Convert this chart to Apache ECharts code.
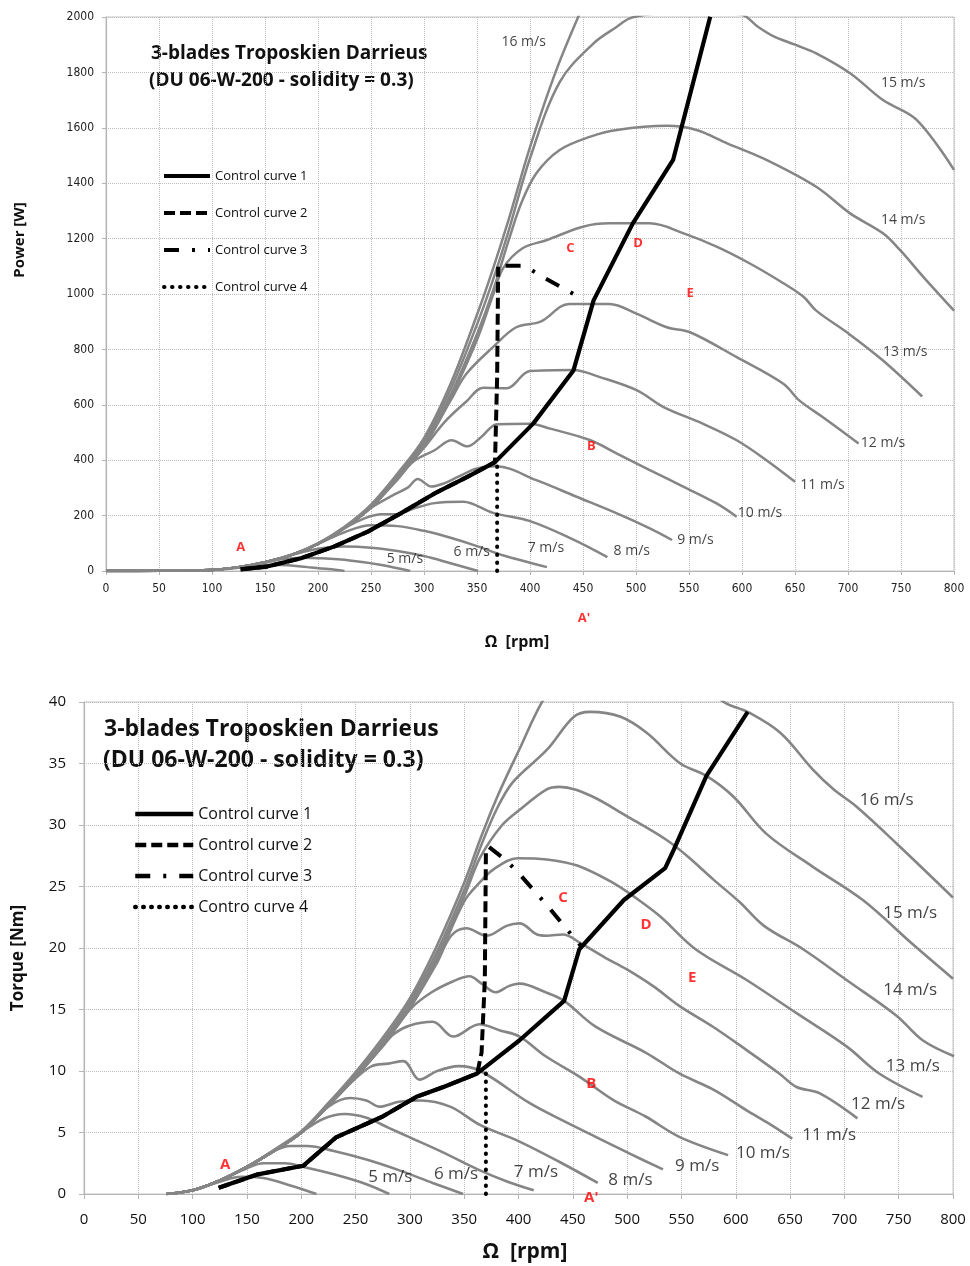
<!DOCTYPE html>
<html><head><meta charset="utf-8">
<script src="https://cdn.jsdelivr.net/npm/echarts/dist/echarts.min.js"></script>
<style>html,body{margin:0;padding:0;background:#fff}#c{width:970px;height:1266px}</style>
</head><body><div id="c"></div>
<script>
// ---------- DATA : power [W] vs rotor speed [rpm] ----------
const windNames = ['4 m/s','5 m/s','6 m/s','7 m/s','8 m/s','9 m/s','10 m/s','11 m/s','12 m/s','13 m/s','14 m/s','15 m/s','16 m/s'];
const p4  = [[0,0],[50,0.5],[100,4],[125,12],[145,21],[165,22],[190,14],[210,7],[225,0]];
const p5  = [[0,0],[50,0.5],[100,4],[125,14],[150,30],[165,42],[185,48],[202,46],[230,38],[260,22],[287,0]];
const p6  = [[0,0],[50,0.5],[100,4],[125,14],[150,32],[175,58],[200,80],[225,88],[250,84],[275,72],[300,54],[325,28],[351,0]];
const p7  = [[0,0],[50,0.5],[100,4],[125,14],[150,32],[175,58],[200,98],[225,140],[250,165],[275,162],[300,145],[325,120],[350,90],[375,56],[400,30],[416,14]];
const p8  = [[0,0],[50,0.5],[100,4],[125,14],[150,32],[175,58],[200,98],[225,155],[245,192],[260,205],[275,205],[290,225],[310,245],[337,250],[365,210],[400,180],[440,115],[473,50]];
const p9  = [[0,0],[50,0.5],[100,4],[125,14],[150,32],[175,58],[200,98],[225,155],[250,228],[270,272],[285,302],[294,332],[307,305],[320,318],[332,340],[350,370],[368,378],[406,328],[444,268],[482,208],[513,154],[534,112]];
const p10 = [[0,0],[50,0.5],[100,4],[125,14],[150,32],[175,58],[200,98],[225,155],[250,230],[275,330],[290,395],[310,436],[326,472],[341,450],[354,484],[369,530],[400,532],[419,514],[457,472],[482,424],[513,364],[545,304],[576,244],[595,196]];
const p11 = [[0,0],[50,0.5],[100,4],[125,14],[150,32],[175,58],[200,98],[225,155],[250,230],[275,335],[300,445],[320,540],[340,612],[356,662],[378,660],[400,722],[441,726],[466,700],[501,652],[526,592],[563,532],[595,472],[623,400],[650,322]];
const p12 = [[0,0],[50,0.5],[100,4],[125,14],[150,32],[175,58],[200,98],[225,155],[250,230],[275,335],[300,450],[325,615],[340,712],[365,808],[387,880],[410,900],[437,964],[475,964],[501,928],[529,880],[551,862],[595,772],[639,676],[654,616],[676,556],[710,460]];
const p13 = [[0,0],[50,0.5],[100,4],[125,14],[150,32],[175,58],[200,98],[225,155],[250,230],[275,335],[300,455],[325,625],[350,835],[365,995],[375,1095],[393,1165],[416,1195],[450,1243],[475,1255],[513,1255],[545,1219],[576,1171],[607,1111],[639,1039],[658,990],[670,940],[701,856],[733,760],[770,630]];
const p14 = [[0,0],[50,0.5],[100,4],[125,14],[150,32],[175,58],[200,98],[225,155],[250,232],[275,338],[300,460],[325,635],[350,855],[365,1010],[380,1195],[392,1330],[406,1436],[428,1520],[457,1568],[482,1592],[529,1607],[557,1592],[586,1544],[623,1484],[670,1387],[702,1291],[733,1219],[749,1159],[771,1062],[800,940]];
const p15 = [[0,0],[50,0.5],[100,4],[125,14],[150,32],[175,58],[200,99],[225,157],[250,235],[275,345],[300,470],[325,655],[350,890],[365,1050],[380,1230],[400,1490],[428,1765],[460,1905],[482,1965],[494,1995],[513,2010],[545,2015],[575,2015],[600,2008],[615,1965],[630,1930],[650,1900],[670,1869],[702,1797],[733,1700],[765,1628],[800,1448]];
const p16 = [[0,0],[50,0.5],[100,4],[125,14],[150,32],[175,58],[200,100],[225,160],[250,240],[275,352],[300,480],[325,675],[350,925],[365,1090],[380,1270],[400,1530],[425,1810],[450,2040],[475,2250],[500,2350],[550,2480],[611,2510],[641,2517],[671,2424],[711,2345],[748,2232],[800,2018]];
const powerCurves = [p4,p5,p6,p7,p8,p9,p10,p11,p12,p13,p14,p15,p16];

const ctrl1P = [[127,6],[152,16],[184,46],[215,88],[247,142],[278,208],[310,280],[341,340],[367,393],[403,532],[441,724],[460,977],[497,1255],[535,1484],[570,2001]];
const ctrl2P = [[127,6],[152,16],[184,46],[215,88],[247,142],[278,208],[310,280],[341,340],[367,393],[369,700],[370,1098]];
const ctrl3P = [[377,1102],[395,1102],[410,1066],[441,1000]];
const ctrl4P = [[369,0],[369,393]];

const powerSpeedLabels = ['5 m/s','6 m/s','7 m/s','8 m/s','9 m/s','10 m/s','11 m/s','12 m/s','13 m/s','14 m/s','15 m/s','16 m/s'];
const powerSpeedLabelAt = [[282,43],[345,69],[415,83],[496,72],[556,112],[617,209],[676,310],[733,462],[754,791],[752,1267],[752,1762],[394,1910]];
const letters = ['A','B','C','D','E',"A'"];
const powerLetterAt = [[127,87],[458,451],[438,1166],[502,1184],[551,1004],[451,-170]];

// ---------- DATA : torque [Nm] vs rotor speed [rpm] ----------
const t4  = [[76,0],[100,0.3],[125,1.0],[145,1.4],[165,1.3],[190,0.7],[214,0]];
const t5  = [[76,0],[100,0.3],[125,1.1],[150,2.1],[165,2.5],[185,2.5],[202,2.2],[230,1.6],[260,0.8],[281,0]];
const t6  = [[76,0],[100,0.3],[125,1.1],[150,2.2],[175,3.5],[190,3.9],[205,3.9],[230,3.5],[260,2.8],[291,1.9],[321,0.9],[349,0]];
const t7  = [[76,0],[100,0.3],[125,1.1],[150,2.2],[175,3.5],[200,5.0],[220,6.1],[240,6.5],[260,6.2],[280,5.4],[300,4.6],[330,3.4],[365,1.9],[390,1.0],[414,0.3]];
const t8  = [[76,0],[100,0.3],[125,1.1],[150,2.2],[175,3.5],[200,5.0],[225,7.1],[245,7.8],[260,7.6],[272,7.1],[290,7.5],[310,7.6],[337,7.1],[365,5.6],[400,4.3],[440,2.5],[473,0.9]];
const t9  = [[76,0],[100,0.3],[125,1.1],[150,2.2],[175,3.5],[200,5.0],[225,7.2],[250,9.4],[265,10.4],[280,10.6],[294,10.8],[309,9.3],[325,10.0],[345,10.4],[365,10.0],[410,7.4],[440,6.0],[471,4.65],[502,3.3],[533,2.0]];
const t10 = [[76,0],[100,0.3],[125,1.1],[150,2.2],[175,3.5],[200,5.0],[225,7.2],[250,9.5],[275,12.0],[285,13.0],[300,13.7],[321,14.0],[340,12.8],[364,13.8],[383,13.3],[401,12.8],[425,11.2],[456,9.55],[487,7.65],[517,6.3],[548,4.65],[593,3.16]];
const t11 = [[76,0],[100,0.3],[125,1.1],[150,2.2],[175,3.5],[200,5.0],[225,7.2],[250,9.5],[275,12.1],[300,15.0],[320,16.4],[340,17.3],[355,17.7],[366,17.1],[379,16.4],[391,16.9],[401,17.1],[425,16.4],[442,15.7],[471,13.6],[517,11.5],[548,9.8],[579,8.5],[610,6.8],[631,5.7],[652,4.5]];
const t12 = [[76,0],[100,0.3],[125,1.1],[150,2.2],[175,3.5],[200,5.0],[225,7.2],[250,9.5],[275,12.1],[300,15.1],[325,18.8],[338,21.0],[352,21.6],[371,21.0],[389,21.8],[401,22.0],[417,21.1],[426,21.0],[441,21.1],[457,20.4],[480,19.2],[499,18.3],[524,16.9],[548,15.3],[579,13.6],[610,11.7],[640,9.8],[656,8.7],[677,8.2],[712,6.15]];
const t13 = [[76,0],[100,0.3],[125,1.1],[150,2.2],[175,3.5],[200,5.0],[225,7.2],[250,9.5],[275,12.1],[300,15.2],[325,19.0],[350,23.8],[365,25.4],[377,26.4],[399,27.3],[426,27.2],[454,26.7],[487,25.3],[506,24.2],[530,22.6],[563,19.9],[610,17.4],[656,14.7],[702,12.0],[732,9.8],[772,7.9]];
const t14 = [[76,0],[100,0.3],[125,1.1],[150,2.2],[175,3.5],[200,5.0],[225,7.2],[250,9.5],[275,12.2],[300,15.3],[325,19.3],[350,24.2],[365,27.4],[385,30.0],[402,31.3],[426,32.9],[438,33.1],[466,32.4],[500,30.7],[536,28.8],[555,27.5],[579,25.6],[604,23.7],[626,21.8],[662,19.9],[702,17.4],[748,14.5],[772,12.5],[801,11.2]];
const t15 = [[76,0],[100,0.3],[125,1.1],[150,2.2],[175,3.5],[200,5.0],[225,7.3],[250,9.7],[275,12.4],[300,15.6],[325,19.7],[350,24.7],[365,28.2],[380,31.3],[395,33.5],[426,36.1],[451,38.8],[466,39.2],[494,38.8],[518,37.5],[549,35.0],[573,34.0],[598,32.3],[628,29.3],[671,26.6],[717,23.9],[763,20.3],[800,17.5]];
const t16 = [[76,0],[100,0.3],[125,1.1],[150,2.2],[175,3.6],[200,5.1],[225,7.4],[250,9.9],[275,12.7],[300,15.9],[325,20.2],[350,25.3],[365,28.9],[380,32.2],[400,36.0],[425,40.5],[450,43],[500,44.5],[550,43],[589,40],[611,39.2],[641,37.5],[671,34.5],[690,32.9],[711,31.5],[748,28.5],[800,24.1]];
const torqueCurves = [t4,t5,t6,t7,t8,t9,t10,t11,t12,t13,t14,t15,t16];

const ctrl1T = [[124,0.5],[160,1.6],[202,2.3],[232,4.6],[275,6.3],[306,7.9],[331,8.7],[362,9.8],[401,12.5],[442,15.7],[456,19.9],[497,23.9],[535,26.5],[543,28.0],[573,34.0],[611,39.2]];
const ctrl2T = [[124,0.5],[160,1.6],[202,2.3],[232,4.6],[275,6.3],[306,7.9],[331,8.7],[362,9.8],[366,11.5],[369,17.4],[370,27.8]];
const ctrl3T = [[373,28.2],[389,27.1],[403,25.8],[428,23.3],[440,22.0],[458,20.1]];
const ctrl4T = [[370,0],[370,9.9]];

const torqueSpeedLabels = ['5 m/s','6 m/s','7 m/s','8 m/s','9 m/s','10 m/s','11 m/s','12 m/s','13 m/s','14 m/s','15 m/s','16 m/s'];
const torqueSpeedLabelAt = [[282,1.4],[342.5,1.6],[416,1.8],[503,1.1],[564.5,2.3],[625,3.3],[686,4.8],[731,7.3],[763,10.4],[760.6,16.6],[760.6,22.8],[739,32.0]];
const torqueLetterAt = [[130,2.4],[467,9.0],[441,24.1],[517.5,21.9],[560,17.6],[467,-0.3]];

const ctrlNamesTop = ['Control curve 1','Control curve 2','Control curve 3','Control curve 4'];
const ctrlNamesBottom = ['Control curve 1','Control curve 2','Control curve 3','Contro curve 4'];

// ---------- STYLE ----------
const FONT = '"Open Sans", Lato, sans-serif';
const NARROW = '"DejaVu Sans Condensed", "Liberation Sans Narrow", sans-serif';
const GRAY = '#858585';
const ctrlStyles = [
  {type:'solid', width:4.2},
  {type:[11,5], width:4},
  {type:[15,13,3,13], width:4},
  {type:[0.5,7.5], width:4, cap:'round'}
];

const series = [];
function grayCurves(curves, idx, prefix, w){
  curves.forEach((d,i)=>{
    series.push({type:'line', name:prefix+windNames[i], xAxisIndex:idx, yAxisIndex:idx, data:d,
      smooth:0.35, symbol:'none', showSymbol:false, silent:true, z:2,
      lineStyle:{color:GRAY, width:w}});
  });
}
grayCurves(powerCurves, 0, 'P ', 2.5);
grayCurves(torqueCurves, 1, 'T ', 2.6);

function ctrlCurves(list, names, idx){
  list.forEach((d,i)=>{
    series.push({type:'line', name:names[i], xAxisIndex:idx, yAxisIndex:idx, data:d,
      symbol:'none', showSymbol:false, z:5, itemStyle:{color:'#000'},
      lineStyle:Object.assign({color:'#000'}, ctrlStyles[i])});
  });
}
ctrlCurves([ctrl1P,ctrl2P,ctrl3P,ctrl4P], ctrlNamesTop, 0);
ctrlCurves([ctrl1T,ctrl2T,ctrl3T,ctrl4T], ctrlNamesBottom, 1);

function textSeries(idx, names, at, color, size, weight){
  series.push({type:'scatter', xAxisIndex:idx, yAxisIndex:idx, clip:false, silent:true, z:8,
    symbolSize:0.1, itemStyle:{color:'rgba(0,0,0,0)'},
    data: at.map((v,i)=>({name:names[i], value:v})),
    label:{show:true, position:'inside', formatter:'{b}', color:color, fontSize:size, fontWeight:weight, fontFamily:FONT}});
}
textSeries(0, powerSpeedLabels, powerSpeedLabelAt, '#111', 14, 'normal');
textSeries(0, letters, powerLetterAt, '#ff0000', 13, 'bold');
textSeries(1, torqueSpeedLabels, torqueSpeedLabelAt, '#111', 17, 'normal');
textSeries(1, letters, torqueLetterAt, '#ff0000', 15, 'bold');

const splitStyle = {show:true, lineStyle:{type:'dotted', color:'#bdbdbd', width:1}};
const axLine = {show:true, lineStyle:{color:'#b5b5b5', width:1.2}};
const plain = v => String(v);

const option = {
  animation:false,
  backgroundColor:'#fff',
  grid:[
    {left:106, top:17, width:848, height:554, show:true, borderColor:'#c4c4c4', borderWidth:1, backgroundColor:'transparent'},
    {left:84, top:702, width:869, height:492, show:true, borderColor:'#c4c4c4', borderWidth:1, backgroundColor:'transparent'}
  ],
  xAxis:[
    {type:'value', gridIndex:0, min:0, max:800, interval:50, axisLine:axLine,
     axisTick:{show:true, length:4, lineStyle:{color:'#b5b5b5'}}, splitLine:splitStyle,
     axisLabel:{fontSize:12, margin:12, color:'#222', fontFamily:NARROW, formatter:plain}},
    {type:'value', gridIndex:1, min:0, max:800, interval:50, axisLine:axLine,
     axisTick:{show:true, length:5, lineStyle:{color:'#b5b5b5'}}, splitLine:splitStyle,
     axisLabel:{fontSize:15, margin:18, color:'#111', fontFamily:FONT, formatter:plain}}
  ],
  yAxis:[
    {type:'value', gridIndex:0, min:0, max:2000, interval:200, axisLine:axLine,
     axisTick:{show:true, length:4, lineStyle:{color:'#b5b5b5'}}, splitLine:splitStyle,
     axisLabel:{fontSize:12, margin:12, color:'#222', fontFamily:NARROW, formatter:plain}},
    {type:'value', gridIndex:1, min:0, max:40, interval:5, axisLine:axLine,
     axisTick:{show:true, length:5, lineStyle:{color:'#b5b5b5'}}, splitLine:splitStyle,
     axisLabel:{fontSize:15, margin:18, color:'#111', fontFamily:FONT, formatter:plain}}
  ],
  legend:[
    {left:157, top:164, orient:'vertical', itemWidth:46, itemHeight:14, itemGap:23,
     data:ctrlNamesTop, selectedMode:false, lineStyle:{width:4}, itemStyle:{opacity:0},
     textStyle:{fontSize:13, color:'#111', fontFamily:FONT, lineHeight:14}},
    {left:128, top:801, orient:'vertical', itemWidth:58, itemHeight:16, itemGap:15,
     data:ctrlNamesBottom, selectedMode:false, lineStyle:{width:4.5}, itemStyle:{opacity:0},
     textStyle:{fontSize:16, color:'#111', fontFamily:FONT, lineHeight:16}}
  ],
  graphic:[
    {type:'text', left:151, top:44, style:{text:'3-blades Troposkien Darrieus', font:'bold 19px '+FONT, fill:'#111'}},
    {type:'text', left:149, top:71, style:{text:'(DU 06-W-200 - solidity = 0.3)', font:'bold 19px '+FONT, fill:'#111'}},
    {type:'text', left:104, top:718, style:{text:'3-blades Troposkien Darrieus', font:'bold 23px '+FONT, fill:'#111'}},
    {type:'text', left:103, top:749, style:{text:'(DU 06-W-200 - solidity = 0.3)', font:'bold 23px '+FONT, fill:'#111'}},
    {type:'text', x:20, y:240, rotation:Math.PI/2, style:{text:'Power [W]', font:'bold 15px '+FONT, fill:'#111', align:'center', verticalAlign:'middle'}},
    {type:'text', x:18, y:958, rotation:Math.PI/2, style:{text:'Torque [Nm]', font:'bold 17px '+FONT, fill:'#111', align:'center', verticalAlign:'middle'}},
    {type:'text', x:517, y:642, style:{text:'Ω  [rpm]', font:'bold 16px '+FONT, fill:'#111', align:'center', verticalAlign:'middle'}},
    {type:'text', x:525, y:1252, style:{text:'Ω  [rpm]', font:'bold 21px '+FONT, fill:'#111', align:'center', verticalAlign:'middle'}}
  ],
  series:series
};
const chart = echarts.init(document.getElementById('c'), null, {renderer:'canvas'});
chart.setOption(option);
</script></body></html>
